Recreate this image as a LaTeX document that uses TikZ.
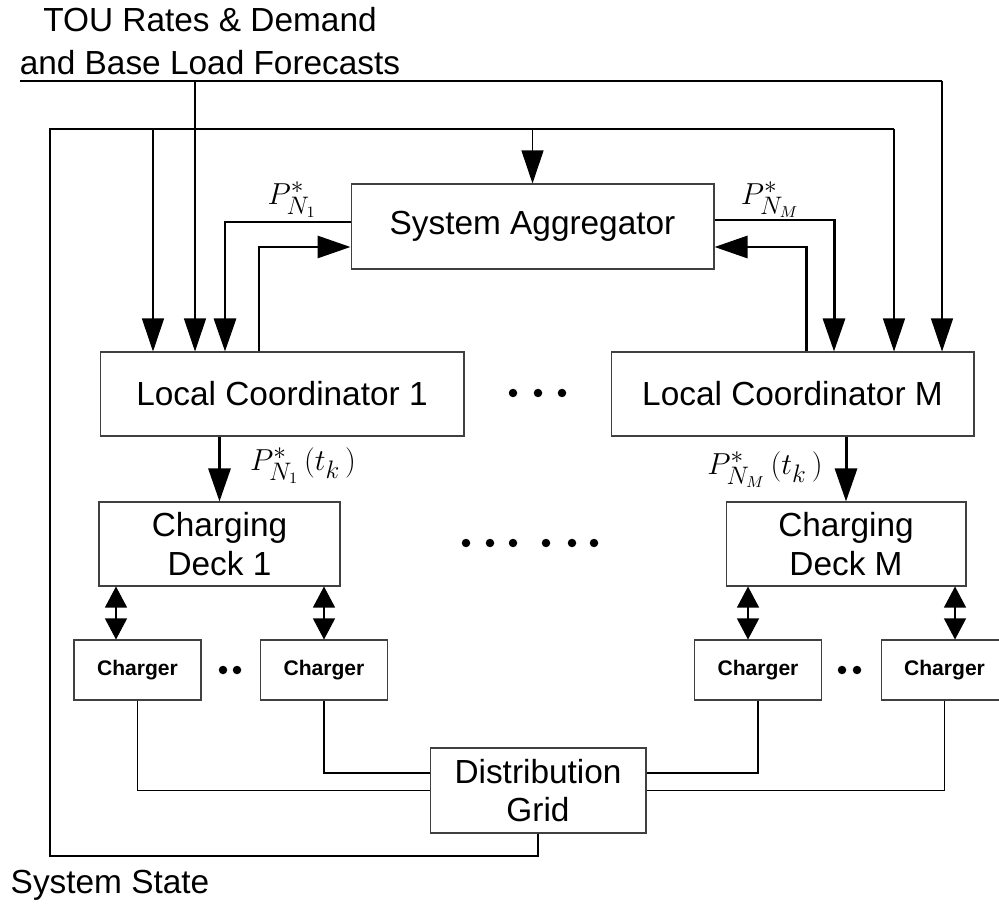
\documentclass[tikz,border=0pt]{standalone}
\usepackage{fontspec}
\setmainfont{Liberation Sans}
\usetikzlibrary{positioning,arrows.meta}

\begin{document}
\begin{tikzpicture}[
    x=0.02cm, y=-0.02cm,
    block/.style={draw=black!75, line width=0.6pt, inner sep=0pt, align=center,
                  font=\fontsize{19}{22}\selectfont},
    charger/.style={block, minimum width=2.54cm, minimum height=1.2cm,
                    font=\fontsize{12}{14}\selectfont\bfseries},
    annot/.style={font=\fontsize{19}{24}\selectfont, align=center, inner sep=0pt},
    wire/.style={line width=0.6pt},
    arrow/.style={-{Triangle[length=0.66cm,width=0.44cm]}, line width=0.6pt},
    tarrow/.style={arrow, line width=1.7pt},
    darrow/.style={{Triangle[length=0.42cm,width=0.44cm]}-{Triangle[length=0.42cm,width=0.44cm]},
                   line width=0.6pt},
  ]
    \useasboundingbox (0,0) rectangle (999,911);

    % Main blocks
    \node[block, minimum width=7.26cm, minimum height=1.7cm] (agg) at (532.5,226.5)
      {System Aggregator};
    \node[block, minimum width=7.28cm, minimum height=1.68cm] (lc1) at (282,394)
      {Local Coordinator 1};
    \node[block, minimum width=7.26cm, minimum height=1.68cm] (lcM) at (792.5,394)
      {Local Coordinator M};
    \node[block, minimum width=4.82cm, minimum height=1.68cm] (deck1) at (219.5,544)
      {Charging\\Deck 1};
    \node[block, minimum width=4.8cm, minimum height=1.68cm] (deckM) at (846,544)
      {Charging\\Deck M};
    \node[charger] (ch11) at (137.5,670) {Charger};
    \node[charger] (ch12) at (324,670) {Charger};
    \node[charger] (chM1) at (758,670) {Charger};
    \node[charger] (chM2) at (944.5,670) {Charger};
    \node[block, minimum width=4.32cm, minimum height=1.7cm] (grid) at (538,790.5)
      {Distribution\\Grid};

    % Outer texts
    \node[annot] (fcst) at (210,41) {TOU Rates \& Demand\\and Base Load Forecasts};
    \node[annot] (state) at (110,885) {System State};

    % Forecast bus
    \coordinate (fL) at (20,81);
    \coordinate (fR) at (942,81);
    \coordinate (f1) at (195,81);
    \draw[wire] (fL) -- (fR);
    \draw[arrow] (fR) -- (fR |- lcM.north);
    \draw[arrow] (f1) -- (f1 |- lc1.north);

    % System state feedback
    \coordinate (sL) at (50,856);
    \coordinate (sT) at (50,129);
    \coordinate (sR) at (894,129);
    \coordinate (s1) at (153,129);
    \draw[wire] (grid.south) |- (sL) -- (sT) -- (sR);
    \draw[arrow] (sR) -- (sR |- lcM.north);
    \draw[arrow] (s1) -- (s1 |- lc1.north);
    \draw[arrow] (sT -| agg.north) -- (agg.north);

    % Aggregator <-> local coordinators
    \coordinate (a1) at (225,222);
    \coordinate (a2) at (259,247);
    \coordinate (a3) at (834,220);
    \coordinate (a4) at (806,247);
    \draw[tarrow] (a1 -| agg.west) -- (a1) -- (a1 |- lc1.north);
    \draw[tarrow] (a2 |- lc1.north) -- (a2) -- (a2 -| agg.west);
    \draw[tarrow] (a3 -| agg.east) -- (a3) -- (a3 |- lcM.north);
    \draw[tarrow] (a4 |- lcM.north) -- (a4) -- (a4 -| agg.east);
    \node[annot] (pn1) at (292,200) {$P^{*}_{N_1}$};
    \node[annot] (pnM) at (770,200) {$P^{*}_{N_M}$};

    % Local coordinators -> decks
    \draw[tarrow] (lc1.south -| deck1.north) -- (deck1.north);
    \draw[tarrow] (lcM.south -| deckM.north) -- (deckM.north);
    \node[annot] (pt1) at (303,466) {$P^{*}_{N_1}\,(t_k\,)$};
    \node[annot] (ptM) at (765,470) {$P^{*}_{N_M}\,(t_k\,)$};

    % Decks <-> chargers
    \coordinate (b11) at (116,613);
    \coordinate (b12) at (324,613);
    \coordinate (bM1) at (748,613);
    \coordinate (bM2) at (955,613);
    \draw[darrow] (b11 |- deck1.south) -- (b11 |- ch11.north);
    \draw[darrow] (b12 |- deck1.south) -- (b12 |- ch12.north);
    \draw[darrow] (bM1 |- deckM.south) -- (bM1 |- chM1.north);
    \draw[darrow] (bM2 |- deckM.south) -- (bM2 |- chM2.north);

    % Chargers -> grid
    \draw[wire] (ch11.south) |- (grid.west);
    \draw[wire] (ch12.south) |- ([yshift=0.35cm]grid.west);
    \draw[wire] (chM1.south) |- ([yshift=0.35cm]grid.east);
    \draw[wire] (chM2.south) |- (grid.east);

    % Ellipses
    \foreach \x in {513,538,562} \fill (\x,393) circle[radius=0.085cm];
    \foreach \x in {466,490,513,546,572,594} \fill (\x,543) circle[radius=0.085cm];
    \foreach \x in {223,237,842,857} \fill (\x,670) circle[radius=0.085cm];
  \end{tikzpicture}
\end{document}
